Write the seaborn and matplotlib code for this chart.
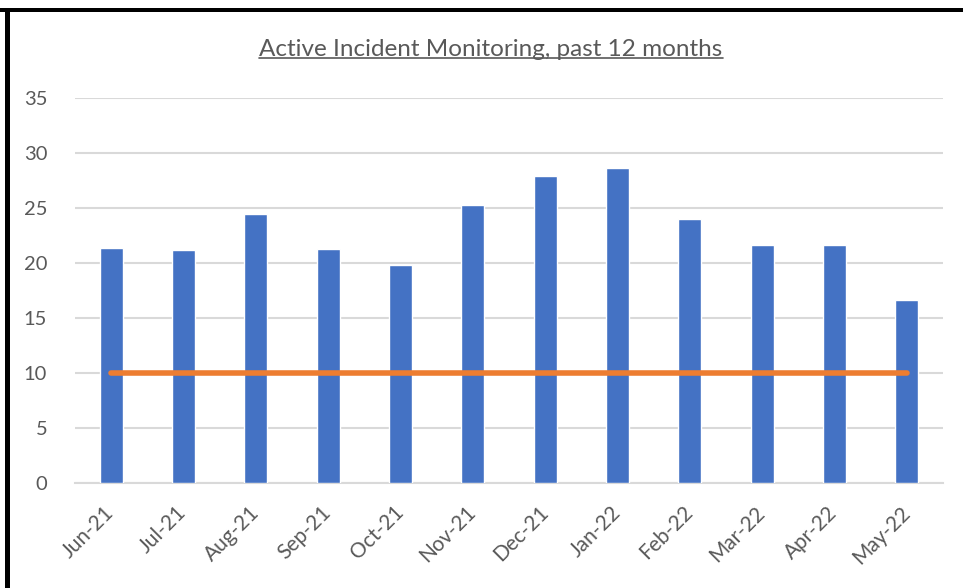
import numpy as np
import pandas as pd
import seaborn as sns
import matplotlib.pyplot as plt
from matplotlib.patches import Rectangle
from matplotlib.lines import Line2D

months = ["Jun-21", "Jul-21", "Aug-21", "Sep-21", "Oct-21", "Nov-21",
          "Dec-21", "Jan-22", "Feb-22", "Mar-22", "Apr-22", "May-22"]
incidents = [21.4, 21.2, 24.5, 21.3, 19.8, 25.3, 27.9, 28.6, 24.0, 21.6, 21.6, 16.6]
target = [10] * len(months)

sns.set_style("white")
plt.rcParams["font.family"] = ["Lato", "DejaVu Sans"]

grey_text = "#595959"
grid_col = "#D9D9D9"

fig = plt.figure(figsize=(9.63, 5.88), dpi=100)
ax = fig.add_axes([75 / 963, 1 - 483 / 588, (943 - 75) / 963, (483 - 98) / 588])

df = pd.DataFrame({"month": months, "value": incidents})
sns.barplot(data=df, x="month", y="value", color="#4472C4", width=0.32,
            saturation=1, ax=ax, zorder=3)
# target line at 10
sns.lineplot(x=np.arange(len(months)), y=target, color="#ED7D31",
             linewidth=4, solid_capstyle="round", ax=ax, zorder=4)

ax.set_xlim(-0.5, len(months) - 0.5)
ax.set_ylim(0, 35)
ax.set_yticks(range(0, 36, 5))
ax.yaxis.grid(True, color=grid_col, linewidth=1.5, zorder=0)
ax.set_axisbelow(True)
ax.set_xlabel("")
ax.set_ylabel("")

for s in ["top", "right", "left"]:
    ax.spines[s].set_visible(False)
ax.spines["bottom"].set_color(grid_col)
ax.spines["bottom"].set_linewidth(1.5)
ax.spines["bottom"].set_zorder(2)

# tick marks at category boundaries, labels at centers
ax.set_xticks(np.arange(len(months)))
ax.set_xticklabels(months, rotation=45, ha="right", va="center",
                   rotation_mode="anchor", color=grey_text, fontsize=15)
ax.tick_params(axis="x", length=0, pad=19)
ax.set_xticks(np.arange(-0.5, len(months)), minor=True)
ax.tick_params(axis="x", which="minor", length=8, width=1.5, color=grid_col,
               direction="out")
ax.tick_params(axis="y", length=0, pad=20, labelsize=14.5, labelcolor=grey_text)

title = fig.text(491 / 963, 1 - 50 / 588, "Active Incident Monitoring, past 12 months",
                 ha="center", va="center", fontsize=17.5, color=grey_text)

# underline the title
fig.canvas.draw()
bb = title.get_window_extent().transformed(fig.transFigure.inverted())
fig.add_artist(Line2D([bb.x0, bb.x1], [bb.y0 + 0.004, bb.y0 + 0.004],
                      transform=fig.transFigure, color=grey_text, linewidth=1.2))

# black frame on top and left like the screenshot
fig.add_artist(Rectangle((0, 1 - 12 / 588), 1, 4 / 588, transform=fig.transFigure,
                         color="black", lw=0))
fig.add_artist(Rectangle((5 / 963, 0), 5 / 963, 1 - 8 / 588, transform=fig.transFigure,
                         color="black", lw=0))

fig.savefig("out.png", dpi=100)
